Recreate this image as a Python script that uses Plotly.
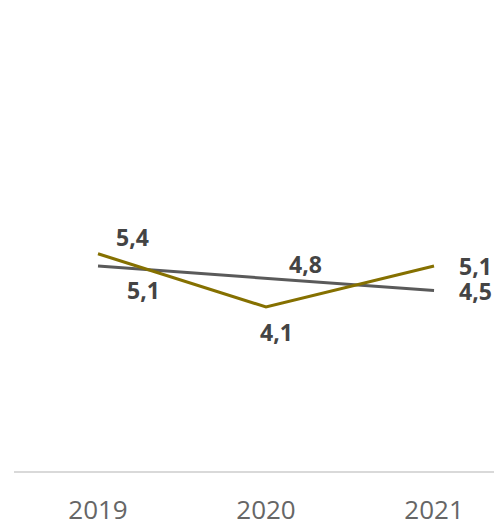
import plotly.graph_objects as go

years = ["2019", "2020", "2021"]
series_a = [5.4, 4.1, 5.1]   # olive
series_b = [5.1, 4.8, 4.5]   # gray
labels_a = ["5,4", "4,1", "5,1"]
labels_b = ["5,1", "4,8", "4,5"]

olive = "#857000"
gray = "#5a5a5a"
label_color = "#444444"

idx = list(range(len(years)))

fig = go.Figure()
fig.add_trace(go.Scatter(x=idx, y=series_b, mode="lines",
                         line=dict(color=gray, width=3), hoverinfo="skip"))
fig.add_trace(go.Scatter(x=idx, y=series_a, mode="lines",
                         line=dict(color=olive, width=3), hoverinfo="skip"))

# label offsets (px) per point
shift_a = [(34, 17), (10, -25), (41, 0)]
shift_b = [(45, -24), (39, 14), (41, 0)]
font = dict(family="Open Sans", size=23, color=label_color)
for x, y, t, (dx, dy) in zip(idx, series_a, labels_a, shift_a):
    fig.add_annotation(x=x, y=y, xref="x", yref="y", text="<b>" + t + "</b>",
                       showarrow=False, xshift=dx, yshift=dy, font=font)
for x, y, t, (dx, dy) in zip(idx, series_b, labels_b, shift_b):
    fig.add_annotation(x=x, y=y, xref="x", yref="y", text="<b>" + t + "</b>",
                       showarrow=False, xshift=dx, yshift=dy, font=font)

fig.update_layout(
    width=494, height=527,
    margin=dict(l=14, r=0, t=61, b=49),
    paper_bgcolor="white", plot_bgcolor="white",
    showlegend=False,
    xaxis=dict(range=[-0.5, 2.357], showgrid=False, zeroline=False,
               tickmode="array", tickvals=idx, ticktext=years,
               showline=True, linecolor="#d9d9d9", linewidth=2,
               ticks="", ticklabelstandoff=15,
               tickfont=dict(family="Open Sans", size=26, color="#666666")),
    yaxis=dict(range=[0.1, 10.1], showgrid=False, zeroline=False,
               showticklabels=False, showline=False, ticks=""),
)

fig.write_html("out.html", config={"displayModeBar": False},
               post_script="document.body.style.margin='0';document.body.style.overflow='hidden';")
